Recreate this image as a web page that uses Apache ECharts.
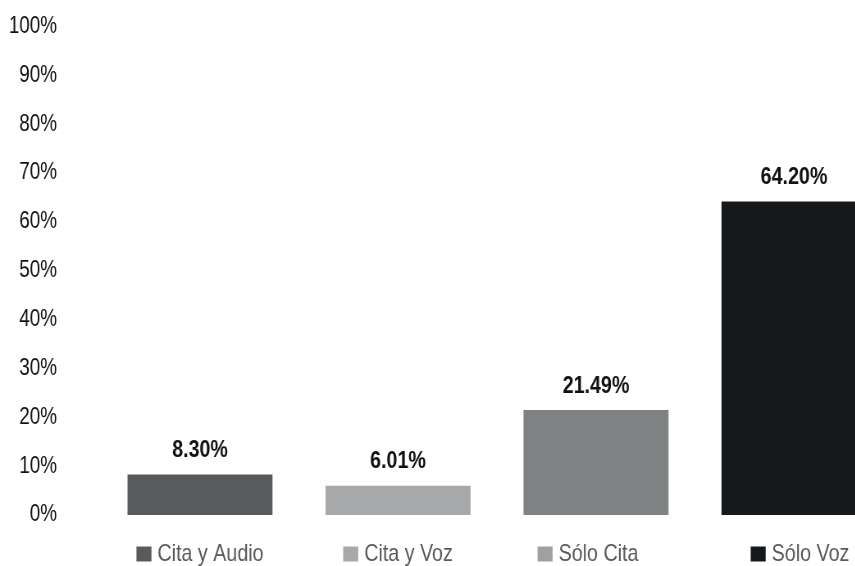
<!DOCTYPE html>
<html><head><meta charset="utf-8">
<script src="https://cdn.jsdelivr.net/npm/echarts@6/dist/echarts.min.js"></script>
<style>
html,body{margin:0;padding:0;background:#fff;overflow:hidden;width:855px;height:566px}
#c{width:1100px;height:566px;transform:scaleX(0.82);transform-origin:0 0}
</style>
</head><body><div id="c"></div>
<script>
var categories = ['Cita y Audio', 'Cita y Voz', 'Sólo Cita', 'Sólo Voz'];
var values = [8.30, 6.01, 21.49, 64.20];
var valueLabels = ['8.30%', '6.01%', '21.49%', '64.20%'];
var barColors = ['#575b5c', '#a6a8a9', '#7f8283', '#16191c'];
var markerColors = ['#575b5c', '#a6a8a9', '#9ea0a1', '#16191c'];

// The page is condensed horizontally by S (narrow-font look); horizontal sizes are given pre-scale.
var S = 0.82;
var FONT = '"Liberation Sans", Arial, sans-serif';
var labelShift = [0, 0, -8, 6];
var rich = {t: {fontFamily: FONT, fontSize: 24, color: '#58595b', padding: [0, 0, 0, 6 / S]}};
markerColors.forEach(function (c, i) {
  rich['m' + i] = {backgroundColor: c, width: 15 / S, height: 15};
  rich['l' + i] = {width: Math.max(0, 2 * labelShift[i]) / S, height: 1};
  rich['r' + i] = {width: Math.max(0, -2 * labelShift[i]) / S, height: 1};
});

var chart = echarts.init(document.getElementById('c'));
chart.setOption({
  animation: false,
  grid: {left: 101 / S, width: 792 / S, top: 26.6, bottom: 50.3, containLabel: false},
  xAxis: {
    type: 'category', data: categories,
    axisLine: {show: false}, axisTick: {show: false},
    axisLabel: {
      margin: 27, interval: 0,
      formatter: function (v, i) {
        return '{l' + i + '|}{m' + i + '|}{t|' + v + '}{r' + i + '|}';
      },
      rich: rich
    }
  },
  yAxis: {
    type: 'value', min: 0, max: 100, interval: 10,
    splitLine: {show: false}, axisLine: {show: false}, axisTick: {show: false},
    axisLabel: {margin: 44 / S, formatter: '{value}%', fontFamily: FONT, fontSize: 23, color: '#111'}
  },
  series: [{
    type: 'bar', barWidth: 145 / S,
    data: values.map(function (v, i) { return {value: v, itemStyle: {color: barColors[i]}}; }),
    label: {
      show: true, position: 'top', distance: 12,
      formatter: function (p) { return valueLabels[p.dataIndex]; },
      fontFamily: FONT, fontWeight: 'bold', fontSize: 24, color: '#111'
    }
  }]
});
</script></body></html>
